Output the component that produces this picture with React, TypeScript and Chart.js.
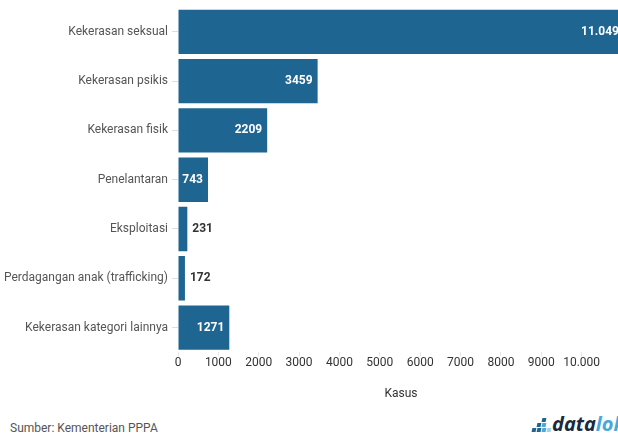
import React, { useEffect, useRef } from "react";
import { Chart, registerables } from "chart.js";

Chart.register(...registerables);

const categories: string[] = [
  "Kekerasan seksual",
  "Kekerasan psikis",
  "Kekerasan fisik",
  "Penelantaran",
  "Eksploitasi",
  "Perdagangan anak (trafficking)",
  "Kekerasan kategori lainnya",
];
const values: number[] = [11049, 3459, 2209, 743, 231, 172, 1271];
const tickValues: number[] = [0, 1000, 2000, 3000, 4000, 5000, 6000, 7000, 8000, 9000, 10000];
const axisMax = 11049;
const axisTitle = "Kasus";
const sourceText = "Sumber: Kementerian PPPA";

const BAR_COLOR = "#1f6591";
const FONT = "Roboto, 'DejaVu Sans', sans-serif";

const fmt = (v: number): string =>
  v >= 10000 ? String(v).replace(/\B(?=(\d{3})+(?!\d))/g, ".") : String(v);

const valueLabels = {
  id: "valueLabels",
  afterDatasetsDraw(chart: any) {
    const ctx = chart.ctx;
    const meta = chart.getDatasetMeta(0);
    ctx.save();
    ctx.font = `bold 12px ${FONT}`;
    ctx.textBaseline = "middle";
    meta.data.forEach((bar: any, i: number) => {
      const v = values[i];
      const text = fmt(v);
      const w = ctx.measureText(text).width;
      const barW = bar.x - bar.base;
      if (w + 7 <= barW) {
        ctx.fillStyle = "#ffffff";
        ctx.textAlign = "right";
        ctx.fillText(text, bar.x - 5, bar.y);
      } else {
        ctx.fillStyle = "#333333";
        ctx.textAlign = "left";
        ctx.fillText(text, bar.x + 5, bar.y);
      }
    });
    ctx.restore();
  },
};

function BarChart() {
  const ref = useRef<HTMLCanvasElement | null>(null);
  useEffect(() => {
    if (!ref.current) return;
    const chart = new Chart(ref.current, {
      type: "bar",
      data: {
        labels: categories,
        datasets: [
          {
            data: values,
            backgroundColor: BAR_COLOR,
            borderWidth: 0,
            barPercentage: 0.9,
            categoryPercentage: 1,
          },
        ],
      },
      options: {
        indexAxis: "y",
        animation: false,
        responsive: true,
        maintainAspectRatio: false,
        layout: { padding: { top: 4, right: 6, left: 0, bottom: 0 } },
        plugins: {
          legend: { display: false },
          tooltip: { enabled: false },
        },
        scales: {
          x: {
            type: "linear",
            min: 0,
            max: axisMax,
            afterBuildTicks: (scale: any) => {
              scale.ticks = tickValues.map((v) => ({ value: v }));
            },
            border: { display: false },
            grid: {
              drawOnChartArea: false,
              drawTicks: true,
              tickLength: 4,
              color: "#e6e6e6",
            },
            ticks: {
              color: "#333",
              font: { family: FONT, size: 12 },
              padding: 0,
              maxRotation: 0,
              callback: (v: any) => fmt(Number(v)),
            },
            title: {
              display: true,
              text: axisTitle,
              color: "#333",
              font: { family: FONT, size: 12 },
              padding: { top: 16, bottom: 4 },
            },
          },
          y: {
            border: { display: false },
            grid: {
              drawOnChartArea: false,
              drawTicks: true,
              tickLength: 6,
              color: "#dddddd",
              offset: false,
            },
            ticks: {
              color: "#555",
              font: { family: FONT, size: 12 },
              padding: 4,
            },
            afterFit: (scale: any) => {
              scale.width = 178;
            },
          },
        },
      },
      plugins: [valueLabels],
    });
    return () => chart.destroy();
  }, []);
  return <canvas ref={ref} />;
}

function Logo() {
  const sq = (x: number, y: number, c: string) => (
    <div
      key={`${x}-${y}`}
      style={{ position: "absolute", left: x, top: y, width: 4, height: 4, background: c, transform: "skewX(-12deg)" }}
    />
  );
  return (
    <div style={{ position: "absolute", left: 530, top: 414, height: 22, width: 120 }}>
      <div style={{ position: "absolute", left: 0, top: 4, width: 22, height: 16 }}>
        {sq(12, 0, "#1f6591")}
        {sq(7, 5, "#1f6591")}
        {sq(12, 5, "#4aa8d8")}
        {sq(2, 10, "#1f6591")}
        {sq(7, 10, "#1f6591")}
        {sq(12, 10, "#4aa8d8")}
        {sq(17, 10, "#9fd3ee")}
      </div>
      <div
        style={{
          position: "absolute",
          left: 22,
          top: -2,
          fontFamily: "'Open Sans', sans-serif",
          fontStyle: "italic",
          fontWeight: 700,
          fontSize: 20,
          whiteSpace: "nowrap",
          lineHeight: "24px",
        }}
      >
        <span style={{ color: "#1b2a3a" }}>data</span>
        <span style={{ color: "#4aa8d8" }}>loka</span>
      </div>
    </div>
  );
}

export default function App() {
  return (
    <div
      style={{
        position: "fixed",
        left: 0,
        top: 0,
        width: 618,
        height: 436,
        overflow: "hidden",
        background: "#ffffff",
        fontFamily: FONT,
      }}
    >
      <div style={{ position: "absolute", left: 0, top: -4, width: 630, height: 409 }}>
        <BarChart />
      </div>
      <div
        style={{
          position: "absolute",
          left: 10,
          top: 420,
          fontSize: 12,
          color: "#555",
          whiteSpace: "nowrap",
          lineHeight: "16px",
        }}
      >
        {sourceText}
      </div>
      <Logo />
    </div>
  );
}
